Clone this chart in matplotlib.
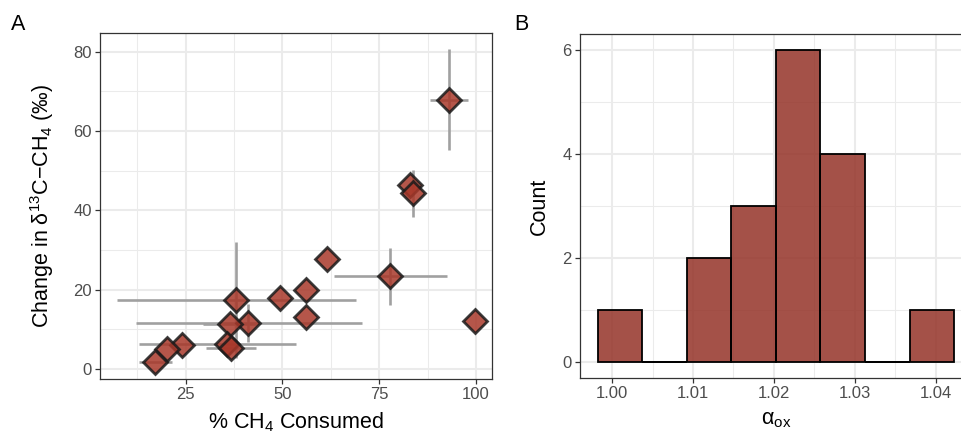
import numpy as np
import matplotlib
matplotlib.use("Agg")
import matplotlib.pyplot as plt
from matplotlib.ticker import MultipleLocator, FixedLocator

plt.rcParams['font.family'] = ['Liberation Sans', 'DejaVu Sans']
plt.rcParams['mathtext.fontset'] = 'custom'
plt.rcParams['mathtext.rm'] = 'Liberation Sans'
plt.rcParams['mathtext.it'] = 'Liberation Sans:italic'
plt.rcParams['mathtext.bf'] = 'Liberation Sans:bold'

# ---------------- Panel A data ----------------
pct_consumed = [92.9, 82.9, 83.8, 77.8, 99.7, 61.4, 56.2, 56.1, 49.4,
                38.0, 41.2, 36.4, 35.6, 36.8, 24.0, 20.1, 17.1]
delta_change = [67.8, 46.4, 44.3, 23.5, 12.2, 27.7, 19.9, 13.0, 18.0,
                17.4, 11.7, 11.3, 6.3, 5.4, 6.0, 5.0, 1.8]
x_low = [88.1, np.nan, np.nan, 63.4, np.nan, np.nan, np.nan, np.nan, np.nan,
         7.3, 12.2, 29.5, 13.0, 30.3, np.nan, np.nan, 13.0]
x_high = [97.8, np.nan, np.nan, 92.4, np.nan, np.nan, np.nan, np.nan, np.nan,
          68.9, 70.5, 43.3, 53.4, 43.3, np.nan, np.nan, 21.4]
y_low = [55.1, np.nan, 38.4, 16.1, np.nan, np.nan, np.nan, np.nan, np.nan,
         2.7, 6.9, np.nan, np.nan, np.nan, np.nan, np.nan, np.nan]
y_high = [80.6, np.nan, 50.2, 30.4, np.nan, np.nan, np.nan, np.nan, np.nan,
          32.1, 16.5, np.nan, np.nan, np.nan, np.nan, np.nan, np.nan]

# ---------------- Panel B data ----------------
bin_edges = [0.99824, 1.00374, 1.00924, 1.01474, 1.02024, 1.02574,
             1.03124, 1.03674, 1.04224]
bin_counts = [1, 0, 2, 3, 6, 4, 0, 1]

x_ticks_a = [25, 50, 75, 100]
y_ticks_a = [0, 20, 40, 60, 80]
x_ticks_b = [1.00, 1.01, 1.02, 1.03, 1.04]
y_ticks_b = [0, 2, 4, 6]

# ---------------- styling ----------------
W, H = 961, 436
fig = plt.figure(figsize=(W / 100, H / 100), dpi=100)

grid_col = '#EBEBEB'
border_col = '#333333'
tick_col = '#4D4D4D'
fill_pt = '#A8382A'
fill_bar = '#943328'
title_size = 15.5


def style_axes(ax):
    ax.set_facecolor('white')
    for s in ax.spines.values():
        s.set_color(border_col)
        s.set_linewidth(0.9)
    ax.tick_params(which='major', length=3.5, width=0.9, color=border_col,
                   labelsize=12, labelcolor=tick_col, pad=2.5)
    ax.tick_params(which='minor', length=0)
    ax.grid(which='major', color=grid_col, linewidth=1.5, zorder=0)
    ax.grid(which='minor', color=grid_col, linewidth=0.75, zorder=0)
    ax.set_axisbelow(True)


def px_axes(l, t, r, b):
    return fig.add_axes([l / W, 1 - b / H, (r - l) / W, (b - t) / H])


# ---------------- Panel A ----------------
axA = px_axes(100, 33, 492, 379)
style_axes(axA)
x = np.array(pct_consumed)
y = np.array(delta_change)
axA.hlines(y, np.array(x_low), np.array(x_high), color='#A0A0A0',
           linewidth=1.9, zorder=2)
axA.vlines(x, np.array(y_low), np.array(y_high), color='#A0A0A0',
           linewidth=1.9, zorder=2)
axA.plot(x, y, linestyle='none', marker='D', markersize=11.8,
         markerfacecolor=fill_pt, markeredgecolor='#1A1A1A',
         markeredgewidth=2.0, alpha=0.85, zorder=3)
axA.set_xlim(2.9, 104.1)
axA.set_ylim(-2.5, 84.7)
axA.xaxis.set_major_locator(FixedLocator(x_ticks_a))
axA.yaxis.set_major_locator(FixedLocator(y_ticks_a))
axA.xaxis.set_minor_locator(MultipleLocator(12.5))
axA.yaxis.set_minor_locator(MultipleLocator(10))
axA.set_xlabel('% CH$_4$ Consumed', fontsize=title_size, color='black')
axA.set_ylabel('Change in δ$^{13}$C−CH$_4$ (‰)', fontsize=title_size, color='black')
axA.xaxis.set_label_coords(0.5, -0.09)
axA.yaxis.set_label_coords(-0.112, 0.5)

# ---------------- Panel B ----------------
axB = px_axes(580, 34, 972, 378)
style_axes(axB)
edges = np.array(bin_edges)
counts = np.array(bin_counts)
centers = (edges[:-1] + edges[1:]) / 2
widths = np.diff(edges)
axB.bar(centers, counts, width=widths, color=fill_bar, alpha=0.85,
        edgecolor='none', zorder=2)
axB.bar(centers, counts, width=widths, facecolor='none',
        edgecolor='black', linewidth=1.3, zorder=3)
zero = counts == 0
axB.hlines(counts[zero], edges[:-1][zero], edges[1:][zero], color='black',
           linewidth=1.4, zorder=4)
axB.set_xlim(0.99604, 1.04446)
axB.set_ylim(-0.3, 6.3)
axB.xaxis.set_major_locator(FixedLocator(x_ticks_b))
axB.yaxis.set_major_locator(FixedLocator(y_ticks_b))
axB.xaxis.set_minor_locator(MultipleLocator(0.005))
axB.yaxis.set_minor_locator(MultipleLocator(1))
axB.xaxis.set_major_formatter(matplotlib.ticker.FormatStrFormatter('%.2f'))
axB.set_xlabel('α$_{\\mathrm{ox}}$', fontsize=title_size, color='black')
axB.set_ylabel('Count', fontsize=title_size, color='black')
axB.xaxis.set_label_coords(0.5, -0.09)
axB.yaxis.set_label_coords(-0.077, 0.5)

fig.text(11 / W, 1 - 30 / H, 'A', fontsize=15.5, color='black', va='baseline')
fig.text(514 / W, 1 - 30 / H, 'B', fontsize=15.5, color='black', va='baseline')

fig.savefig('out.png', dpi=100)
